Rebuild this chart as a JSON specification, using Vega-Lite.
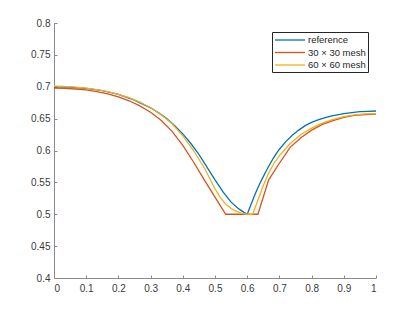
{
  "$schema": "https://vega.github.io/schema/vega-lite/v6.json",
  "width": 322,
  "height": 255,
  "autosize": {"type": "none"},
  "padding": {"left": 54, "top": 23, "right": 39, "bottom": 34},
  "background": "white",
  "config": {
    "view": {"stroke": null},
    "font": "Liberation Sans",
    "axis": {
      "grid": false,
      "domainColor": "#8a8a8a",
      "domainWidth": 1,
      "tickColor": "#8a8a8a",
      "tickWidth": 1,
      "labelColor": "#3a3a3a",
      "labelFontSize": 10,
      "labelFont": "Liberation Sans",
      "title": null
    },
    "legend": {
      "labelFont": "Liberation Sans",
      "labelFontSize": 9.5,
      "labelColor": "#262626"
    }
  },
  "data": {
    "values": [
      {"x": 0, "y": 0.700, "s": "reference"},
      {"x": 0.05, "y": 0.6995, "s": "reference"},
      {"x": 0.1, "y": 0.6975, "s": "reference"},
      {"x": 0.15, "y": 0.694, "s": "reference"},
      {"x": 0.2, "y": 0.688, "s": "reference"},
      {"x": 0.25, "y": 0.679, "s": "reference"},
      {"x": 0.3, "y": 0.667, "s": "reference"},
      {"x": 0.325, "y": 0.659, "s": "reference"},
      {"x": 0.35, "y": 0.650, "s": "reference"},
      {"x": 0.375, "y": 0.639, "s": "reference"},
      {"x": 0.4, "y": 0.626, "s": "reference"},
      {"x": 0.425, "y": 0.611, "s": "reference"},
      {"x": 0.45, "y": 0.594, "s": "reference"},
      {"x": 0.475, "y": 0.574, "s": "reference"},
      {"x": 0.5, "y": 0.554, "s": "reference"},
      {"x": 0.525, "y": 0.535, "s": "reference"},
      {"x": 0.55, "y": 0.519, "s": "reference"},
      {"x": 0.575, "y": 0.508, "s": "reference"},
      {"x": 0.59, "y": 0.503, "s": "reference"},
      {"x": 0.6, "y": 0.500, "s": "reference"},
      {"x": 0.61, "y": 0.513, "s": "reference"},
      {"x": 0.62, "y": 0.526, "s": "reference"},
      {"x": 0.63, "y": 0.538, "s": "reference"},
      {"x": 0.64, "y": 0.549, "s": "reference"},
      {"x": 0.65, "y": 0.559, "s": "reference"},
      {"x": 0.66, "y": 0.569, "s": "reference"},
      {"x": 0.67, "y": 0.578, "s": "reference"},
      {"x": 0.68, "y": 0.587, "s": "reference"},
      {"x": 0.69, "y": 0.595, "s": "reference"},
      {"x": 0.7, "y": 0.602, "s": "reference"},
      {"x": 0.72, "y": 0.614, "s": "reference"},
      {"x": 0.74, "y": 0.624, "s": "reference"},
      {"x": 0.76, "y": 0.632, "s": "reference"},
      {"x": 0.78, "y": 0.639, "s": "reference"},
      {"x": 0.8, "y": 0.644, "s": "reference"},
      {"x": 0.82, "y": 0.648, "s": "reference"},
      {"x": 0.84, "y": 0.651, "s": "reference"},
      {"x": 0.86, "y": 0.654, "s": "reference"},
      {"x": 0.88, "y": 0.656, "s": "reference"},
      {"x": 0.9, "y": 0.658, "s": "reference"},
      {"x": 0.925, "y": 0.6595, "s": "reference"},
      {"x": 0.95, "y": 0.661, "s": "reference"},
      {"x": 0.975, "y": 0.6615, "s": "reference"},
      {"x": 1.0, "y": 0.662, "s": "reference"},

      {"x": 0, "y": 0.698, "s": "30 × 30 mesh"},
      {"x": 0.0333, "y": 0.6975, "s": "30 × 30 mesh"},
      {"x": 0.0667, "y": 0.6965, "s": "30 × 30 mesh"},
      {"x": 0.1, "y": 0.695, "s": "30 × 30 mesh"},
      {"x": 0.1333, "y": 0.6925, "s": "30 × 30 mesh"},
      {"x": 0.1667, "y": 0.689, "s": "30 × 30 mesh"},
      {"x": 0.2, "y": 0.684, "s": "30 × 30 mesh"},
      {"x": 0.2333, "y": 0.678, "s": "30 × 30 mesh"},
      {"x": 0.2667, "y": 0.670, "s": "30 × 30 mesh"},
      {"x": 0.3, "y": 0.660, "s": "30 × 30 mesh"},
      {"x": 0.3333, "y": 0.647, "s": "30 × 30 mesh"},
      {"x": 0.3667, "y": 0.630, "s": "30 × 30 mesh"},
      {"x": 0.4, "y": 0.608, "s": "30 × 30 mesh"},
      {"x": 0.4333, "y": 0.582, "s": "30 × 30 mesh"},
      {"x": 0.4667, "y": 0.554, "s": "30 × 30 mesh"},
      {"x": 0.5, "y": 0.527, "s": "30 × 30 mesh"},
      {"x": 0.5333, "y": 0.5, "s": "30 × 30 mesh"},
      {"x": 0.5667, "y": 0.5, "s": "30 × 30 mesh"},
      {"x": 0.6, "y": 0.5, "s": "30 × 30 mesh"},
      {"x": 0.6333, "y": 0.5, "s": "30 × 30 mesh"},
      {"x": 0.6667, "y": 0.554, "s": "30 × 30 mesh"},
      {"x": 0.7, "y": 0.580, "s": "30 × 30 mesh"},
      {"x": 0.7333, "y": 0.605, "s": "30 × 30 mesh"},
      {"x": 0.7667, "y": 0.620, "s": "30 × 30 mesh"},
      {"x": 0.8, "y": 0.632, "s": "30 × 30 mesh"},
      {"x": 0.8333, "y": 0.641, "s": "30 × 30 mesh"},
      {"x": 0.8667, "y": 0.647, "s": "30 × 30 mesh"},
      {"x": 0.9, "y": 0.652, "s": "30 × 30 mesh"},
      {"x": 0.9333, "y": 0.655, "s": "30 × 30 mesh"},
      {"x": 0.9667, "y": 0.6565, "s": "30 × 30 mesh"},
      {"x": 1, "y": 0.657, "s": "30 × 30 mesh"},

      {"x": 0, "y": 0.701, "s": "60 × 60 mesh"},
      {"x": 0.0333, "y": 0.7005, "s": "60 × 60 mesh"},
      {"x": 0.0667, "y": 0.6995, "s": "60 × 60 mesh"},
      {"x": 0.1, "y": 0.698, "s": "60 × 60 mesh"},
      {"x": 0.1333, "y": 0.6955, "s": "60 × 60 mesh"},
      {"x": 0.1667, "y": 0.6925, "s": "60 × 60 mesh"},
      {"x": 0.2, "y": 0.688, "s": "60 × 60 mesh"},
      {"x": 0.2333, "y": 0.683, "s": "60 × 60 mesh"},
      {"x": 0.2667, "y": 0.676, "s": "60 × 60 mesh"},
      {"x": 0.3, "y": 0.667, "s": "60 × 60 mesh"},
      {"x": 0.3333, "y": 0.656, "s": "60 × 60 mesh"},
      {"x": 0.3667, "y": 0.642, "s": "60 × 60 mesh"},
      {"x": 0.4, "y": 0.623, "s": "60 × 60 mesh"},
      {"x": 0.4333, "y": 0.600, "s": "60 × 60 mesh"},
      {"x": 0.4667, "y": 0.573, "s": "60 × 60 mesh"},
      {"x": 0.5, "y": 0.540, "s": "60 × 60 mesh"},
      {"x": 0.5167, "y": 0.526, "s": "60 × 60 mesh"},
      {"x": 0.5333, "y": 0.516, "s": "60 × 60 mesh"},
      {"x": 0.55, "y": 0.509, "s": "60 × 60 mesh"},
      {"x": 0.5667, "y": 0.5045, "s": "60 × 60 mesh"},
      {"x": 0.5833, "y": 0.5015, "s": "60 × 60 mesh"},
      {"x": 0.6, "y": 0.5, "s": "60 × 60 mesh"},
      {"x": 0.6167, "y": 0.5, "s": "60 × 60 mesh"},
      {"x": 0.6333, "y": 0.522, "s": "60 × 60 mesh"},
      {"x": 0.65, "y": 0.545, "s": "60 × 60 mesh"},
      {"x": 0.6667, "y": 0.565, "s": "60 × 60 mesh"},
      {"x": 0.6833, "y": 0.580, "s": "60 × 60 mesh"},
      {"x": 0.7, "y": 0.592, "s": "60 × 60 mesh"},
      {"x": 0.7333, "y": 0.611, "s": "60 × 60 mesh"},
      {"x": 0.7667, "y": 0.625, "s": "60 × 60 mesh"},
      {"x": 0.8, "y": 0.635, "s": "60 × 60 mesh"},
      {"x": 0.8333, "y": 0.643, "s": "60 × 60 mesh"},
      {"x": 0.8667, "y": 0.649, "s": "60 × 60 mesh"},
      {"x": 0.9, "y": 0.653, "s": "60 × 60 mesh"},
      {"x": 0.9333, "y": 0.656, "s": "60 × 60 mesh"},
      {"x": 0.9667, "y": 0.6575, "s": "60 × 60 mesh"},
      {"x": 1, "y": 0.658, "s": "60 × 60 mesh"}
    ]
  },
  "mark": {"type": "line", "strokeWidth": 1.3, "clip": true},
  "encoding": {
    "x": {
      "field": "x",
      "type": "quantitative",
      "scale": {"domain": [0, 1], "nice": false, "zero": false},
      "axis": {"values": [0, 0.1, 0.2, 0.3, 0.4, 0.5, 0.6, 0.7, 0.8, 0.9, 1], "format": "~g", "tickSize": -3, "labelPadding": 8}
    },
    "y": {
      "field": "y",
      "type": "quantitative",
      "scale": {"domain": [0.4, 0.8], "nice": false, "zero": false},
      "axis": {"values": [0.4, 0.45, 0.5, 0.55, 0.6, 0.65, 0.7, 0.75, 0.8], "format": "~g", "tickSize": -3, "labelPadding": 7}
    },
    "color": {
      "field": "s",
      "type": "nominal",
      "sort": ["reference", "30 × 30 mesh", "60 × 60 mesh"],
      "scale": {"domain": ["reference", "30 × 30 mesh", "60 × 60 mesh"], "range": ["#0072BD", "#D95319", "#EDB120"]},
      "legend": {
        "title": null,
        "orient": "none",
        "legendX": 218,
        "legendY": 9,
        "symbolType": "M-1,0H5",
        "symbolSize": 100,
        "symbolStrokeWidth": 1.3,
        "labelOffset": 22,
        "padding": 2,
        "rowPadding": 1.5,
        "strokeColor": "#262626",
        "fillColor": "white",
        "cornerRadius": 0
      }
    }
  }
}
